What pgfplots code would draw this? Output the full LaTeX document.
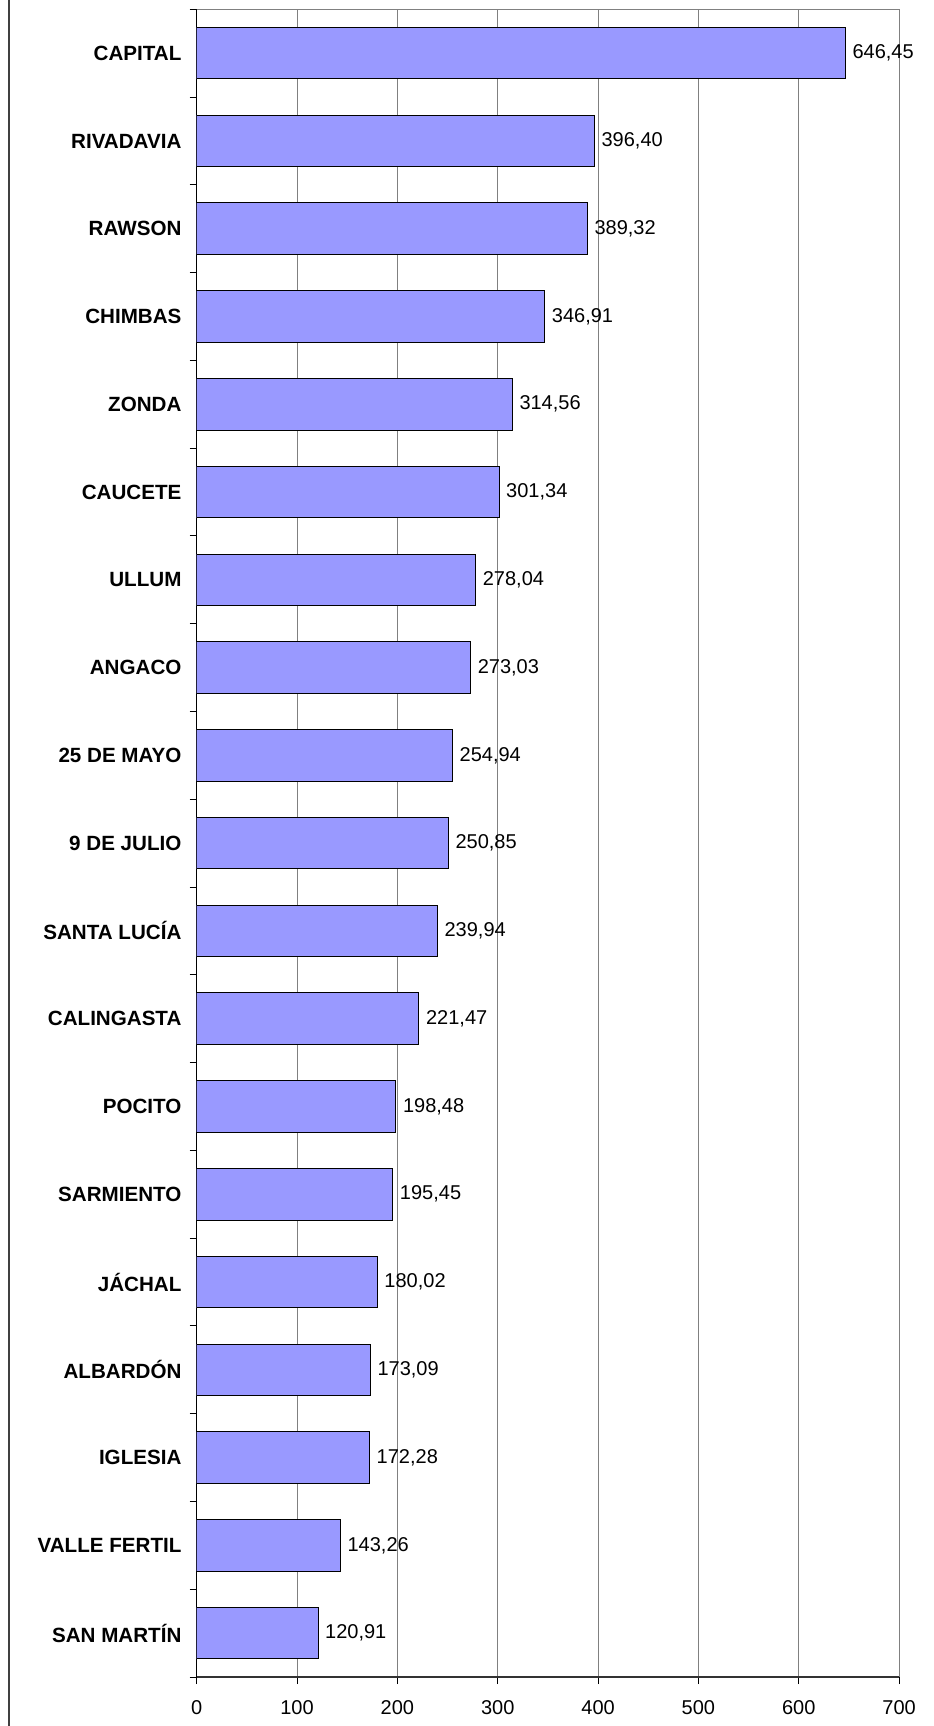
\documentclass[border=0pt]{standalone}
\usepackage{pgfplots}
\pgfplotsset{compat=1.18}
\usepackage{fontspec}
\setmainfont{Liberation Sans}
\definecolor{barfill}{HTML}{9999FF}
\begin{document}
\begin{tikzpicture}
\fill[white] (-98.35pt,-24.5pt) rectangle (368.15pt,838.5pt);
\draw[black!75, line width=0.9pt] (-93.85pt,-24.5pt) -- (-93.85pt,838.5pt);
\begin{axis}[
    at={(0pt,0pt)}, anchor=south west,
    scale only axis, width=351.2pt, height=833.85pt,
    xbar, bar width=25.75pt,
    xmin=0, xmax=700, xtick={0,100,...,700},
    ymin=-0.5, ymax=18.5, y dir=reverse,
    ytick={0,...,18},
    yticklabels={CAPITAL, RIVADAVIA, RAWSON, CHIMBAS, ZONDA, CAUCETE, ULLUM, ANGACO, 25 DE MAYO, 9 DE JULIO, SANTA LUCÍA, CALINGASTA, POCITO, SARMIENTO, JÁCHAL, ALBARDÓN, IGLESIA, VALLE FERTIL, SAN MARTÍN},
    minor ytick={-0.5,0.5,...,18.5},
    every major y tick/.append style={draw=none},
    major tick length=3.5pt, minor tick length=3.5pt,
    tick align=outside,
    tick style={black, line width=0.5pt},
    axis x line*=bottom, axis y line*=left,
    x axis line style={black!80, line width=1pt},
    y axis line style={black, line width=0.5pt},
    xmajorgrids, grid style={gray, line width=0.5pt},
    /pgf/number format/assume math mode=true,
    xticklabel style={font=\fontsize{10}{12}\selectfont, yshift=-4.7pt},
    yticklabel style={font=\fontsize{10.3}{12}\selectfont\bfseries, xshift=-0.6pt},
    nodes near coords, point meta=x,
    every node near coord/.append style={font=\fontsize{10}{12}\selectfont, anchor=west,
        /pgf/number format/.cd, fixed, fixed zerofill, precision=2, use comma, 1000 sep={}},
]
\addplot[fill=barfill, draw=black, line width=0.5pt] coordinates {
(646.45,0) (396.40,1) (389.32,2) (346.91,3) (314.56,4) (301.34,5) (278.04,6)
(273.03,7) (254.94,8) (250.85,9) (239.94,10) (221.47,11) (198.48,12) (195.45,13)
(180.02,14) (173.09,15) (172.28,16) (143.26,17) (120.91,18)};
\draw[gray, line width=0.5pt] (axis cs:0,-0.5) -- (axis cs:700,-0.5);
\end{axis}
\pgfresetboundingbox
\path[use as bounding box] (-98.35pt,-24.5pt) rectangle (368.15pt,838.5pt);
\end{tikzpicture}
\end{document}
